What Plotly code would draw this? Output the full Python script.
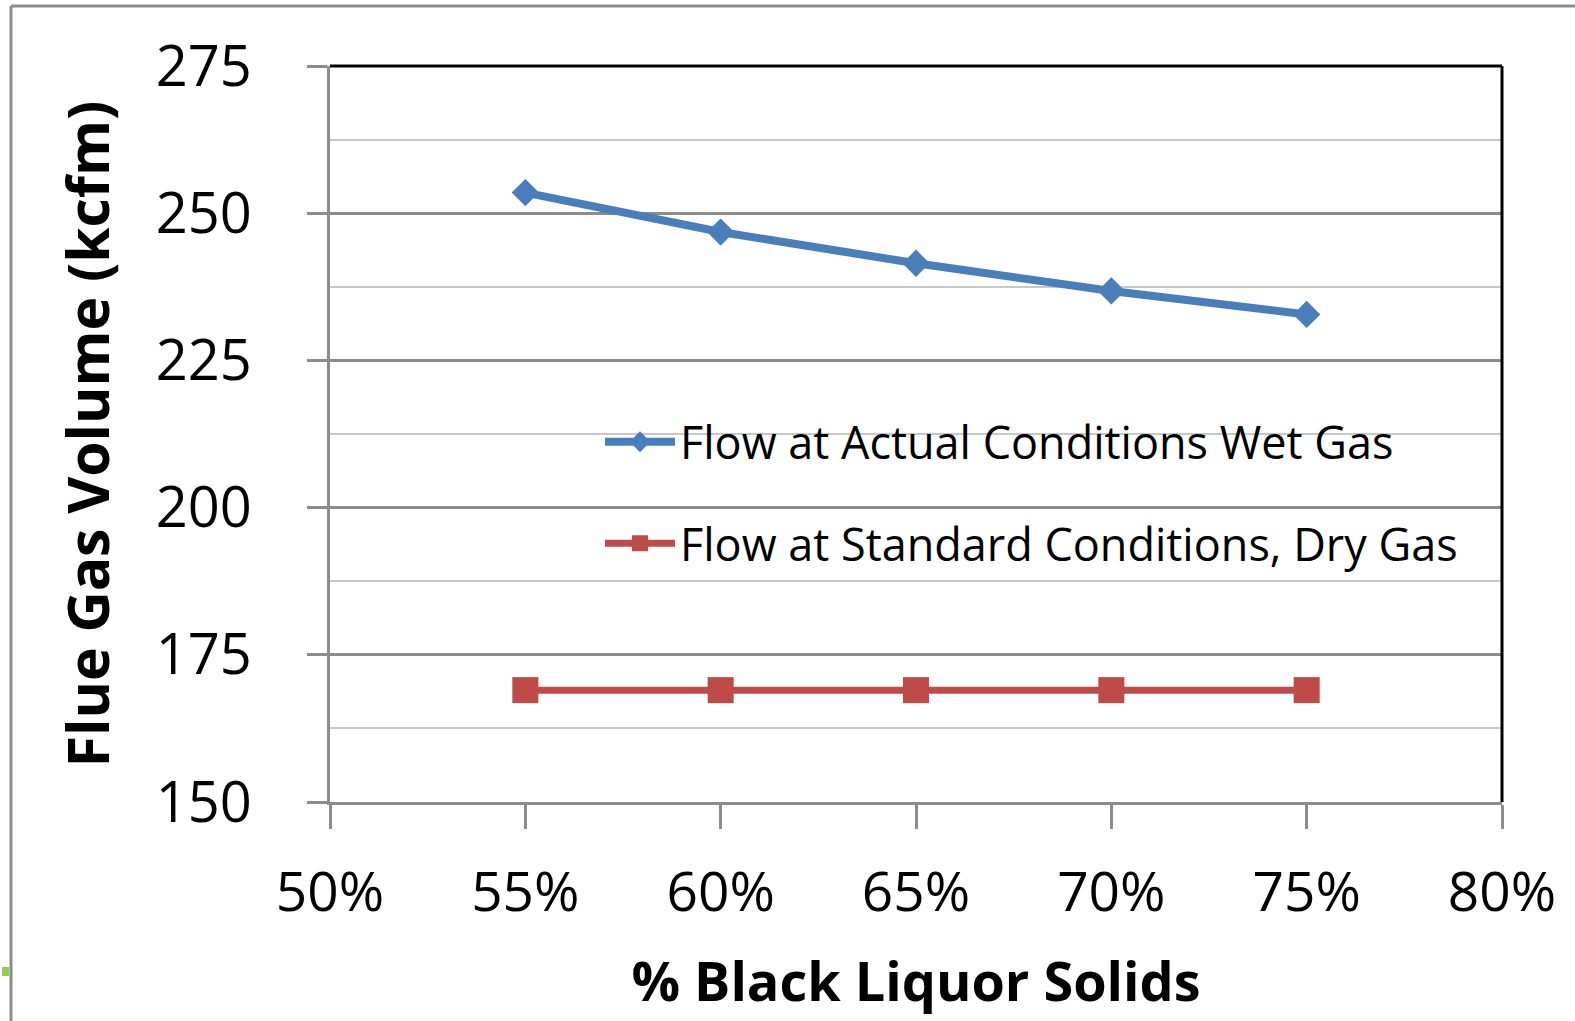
import plotly.graph_objects as go

# Black liquor solids content (fraction) and flue gas flows (kcfm)
solids = [0.55, 0.60, 0.65, 0.70, 0.75]
flow_actual_wet = [253.5, 246.8, 241.5, 236.8, 232.8]
flow_standard_dry = [169.0, 169.0, 169.0, 169.0, 169.0]

name_actual = "Flow at Actual Conditions Wet Gas"
name_standard = "Flow at Standard Conditions, Dry Gas"

W, H = 1575, 1021
L, R, T, B = 330, 73, 66, 219
pw, ph = W - L - R, H - T - B


def px_x(px):
    return (px - L) / pw


def px_y(py):
    return (H - B - py) / ph


FONT = "Open Sans"

fig = go.Figure()
fig.add_trace(go.Scatter(
    x=solids, y=flow_actual_wet, name=name_actual, mode="lines+markers",
    line=dict(color="#4A7EBB", width=8),
    marker=dict(symbol="diamond", size=21, color="#4A7EBB"),
    legendgroup="a",
))
fig.add_trace(go.Scatter(
    x=solids, y=flow_standard_dry, name=name_standard, mode="lines+markers",
    line=dict(color="#BE4B48", width=7),
    marker=dict(symbol="square", size=26, color="#BE4B48"),
    legendgroup="b",
))

shapes = [
    # plot-area border on top and right
    dict(type="line", xref="paper", yref="paper", x0=0, x1=1, y0=1, y1=1,
         line=dict(color="black", width=3)),
    dict(type="line", xref="paper", yref="paper", x0=1, x1=1, y0=0, y1=1,
         line=dict(color="black", width=3)),
    # outer chart frame
    dict(type="line", xref="paper", yref="paper", x0=px_x(11), x1=px_x(1600),
         y0=px_y(6), y1=px_y(6), line=dict(color="#8C8C8C", width=3)),
    dict(type="line", xref="paper", yref="paper", x0=px_x(11), x1=px_x(11),
         y0=px_y(6), y1=px_y(1040), line=dict(color="#8C8C8C", width=3)),
    dict(type="rect", xref="paper", yref="paper", x0=px_x(2), x1=px_x(9),
         y0=px_y(967), y1=px_y(976), line=dict(width=0), fillcolor="#92D050"),
]

fig.update_layout(
    width=W, height=H,
    margin=dict(l=L, r=R, t=T, b=B),
    paper_bgcolor="white", plot_bgcolor="white",
    font=dict(family=FONT, color="black"),
    showlegend=True,
    legend=dict(
        x=px_x(600), y=px_y(406), xanchor="left", yanchor="top",
        bgcolor="rgba(0,0,0,0)", font=dict(family=FONT, size=45),
        traceorder="grouped", tracegroupgap=40, itemwidth=70,
    ),
    shapes=shapes,
    xaxis=dict(
        range=[0.5, 0.8], dtick=0.05, tick0=0.5, tickformat=".0%",
        showgrid=False, zeroline=False,
        showline=True, linecolor="#8C8C8C", linewidth=3,
        ticks="outside", ticklen=24, tickwidth=3, tickcolor="#8C8C8C",
        tickfont=dict(family=FONT, size=55),
        ticklabelstandoff=16,
        title=dict(text="<b>% Black Liquor Solids</b>",
                   font=dict(family=FONT, size=54), standoff=38),
    ),
    yaxis=dict(
        range=[150, 275], dtick=25, tick0=150,
        showgrid=True, gridcolor="#8C8C8C", gridwidth=2.5, zeroline=False,
        minor=dict(dtick=12.5, showgrid=True, gridcolor="#C8C8C8", gridwidth=2),
        showline=True, linecolor="#8C8C8C", linewidth=3,
        ticks="outside", ticklen=20, tickwidth=3, tickcolor="#8C8C8C",
        tickfont=dict(family=FONT, size=56),
        ticklabelstandoff=44,
        title=dict(text="<b>Flue Gas Volume (kcfm)</b>",
                   font=dict(family=FONT, size=57), standoff=28),
    ),
)

fig.write_html("out.html")
